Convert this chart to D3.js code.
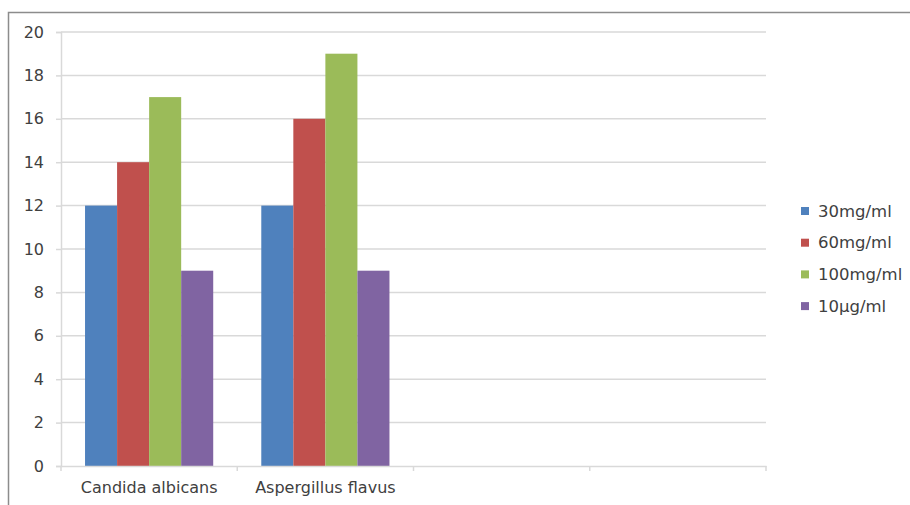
<!DOCTYPE html>
<html><head><meta charset="utf-8">
<script src="https://cdn.jsdelivr.net/npm/d3@7"></script>
<style>body{margin:0;background:#fff}svg{display:block}text{font-family:"DejaVu Sans",sans-serif;fill:#404040}</style>
</head><body>
<svg id="c" width="910" height="505"></svg>
<script>
const categories = ["Candida albicans", "Aspergillus flavus", "", ""];
const seriesNames = ["30mg/ml", "60mg/ml", "100mg/ml", "10µg/ml"];
const seriesColors = ["#4F81BD", "#C0504D", "#9BBB59", "#8064A2"];
const values = {
  "30mg/ml": [12, 12],
  "60mg/ml": [14, 16],
  "100mg/ml": [17, 19],
  "10µg/ml": [9, 9]
};
const yTicks = [0, 2, 4, 6, 8, 10, 12, 14, 16, 18, 20];

const svg = d3.select("#c");
svg.append("path").attr("d", "M8.5,505 V12.5 H910").attr("fill", "none").attr("stroke", "#8c8c8c").attr("stroke-width", 1.5);

const L = 61, R = 766, T = 32, B = 466;
const x = d3.scaleBand().domain(d3.range(categories.length)).range([L, R]).paddingInner(0).paddingOuter(0);
const y = d3.scaleLinear().domain([0, 20]).range([B, T]);

svg.append("g").selectAll("line").data(yTicks.filter(d => d > 0)).join("line")
  .attr("x1", L).attr("x2", R).attr("y1", d => y(d)).attr("y2", d => y(d))
  .attr("stroke", "#d9d9d9").attr("stroke-width", 1.5);

const inner = d3.scaleBand().domain(seriesNames).range([0, x.bandwidth()]).paddingOuter(0.75).paddingInner(0);
seriesNames.forEach((s, si) => {
  svg.append("g").selectAll("rect").data(values[s]).join("rect")
    .attr("x", (d, i) => x(i) + inner(s))
    .attr("width", inner.bandwidth())
    .attr("y", d => y(d))
    .attr("height", d => B - y(d))
    .attr("fill", seriesColors[si]);
});

const ya = svg.append("g").attr("transform", `translate(${L},0)`)
  .call(d3.axisLeft(y).tickValues(yTicks).tickSize(5).tickPadding(12));
ya.select(".domain").attr("stroke", "#d9d9d9").attr("stroke-width", 1.5);
ya.selectAll(".tick line").attr("stroke", "#d9d9d9").attr("stroke-width", 1.5);
ya.selectAll("text").style("font-size", "16px").style("fill", "#404040").attr("font-family", "DejaVu Sans");

const xa = svg.append("g").attr("transform", `translate(0,${B})`)
  .call(d3.axisBottom(x).tickFormat(i => categories[i]).tickSize(0).tickPadding(16));
xa.select(".domain").attr("stroke", "#d9d9d9").attr("stroke-width", 1.5);
xa.selectAll(".tick line").remove();
xa.selectAll("text").style("font-size", "16px").style("fill", "#404040").attr("font-family", "DejaVu Sans");
svg.append("g").selectAll("line").data(d3.range(categories.length + 1)).join("line")
  .attr("x1", i => i < categories.length ? x(i) : R).attr("x2", i => i < categories.length ? x(i) : R)
  .attr("y1", B).attr("y2", B + 5).attr("stroke", "#d9d9d9").attr("stroke-width", 1.5);

const lg = svg.append("g").selectAll("g").data(seriesNames).join("g")
  .attr("transform", (d, i) => `translate(801,${211 + i * 31.7})`);
lg.append("rect").attr("x", 0).attr("y", -4).attr("width", 8).attr("height", 8).attr("fill", (d, i) => seriesColors[i]);
lg.append("text").attr("x", 17).attr("y", 0).attr("dy", "0.35em").style("font-size", "16.5px").text(d => d);
</script>
</body></html>
